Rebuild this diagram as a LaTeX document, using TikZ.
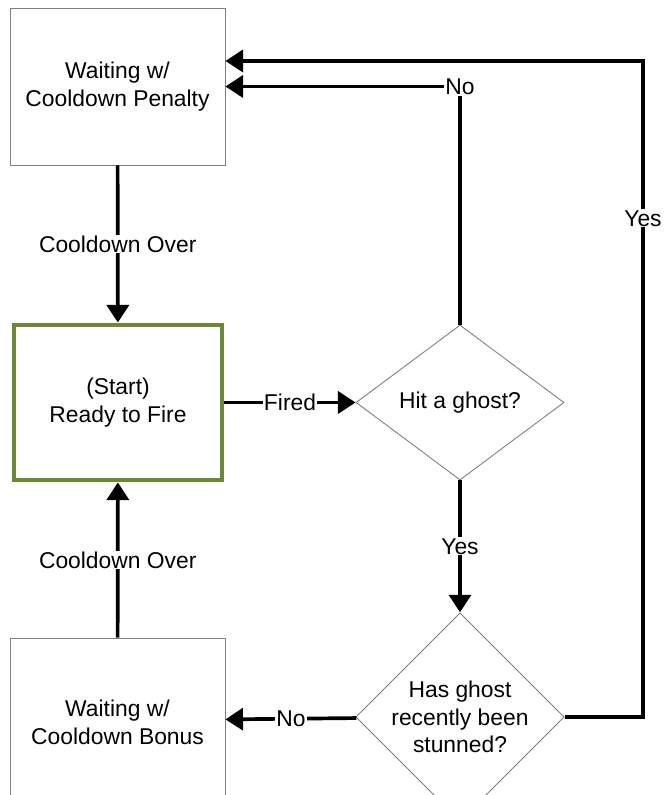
\documentclass[tikz,border=0pt]{standalone}
\usepackage{fontspec}
\setmainfont{Liberation Sans}
\usetikzlibrary{positioning,shapes.geometric,arrows.meta}
\definecolor{ink}{HTML}{000000}
\definecolor{frame}{HTML}{7F7F7F}
\definecolor{leaf}{HTML}{6B8838}

\begin{document}
\begin{tikzpicture}[
  % Node styles
  state/.style={
    rectangle,
    draw=frame,
    fill=white,
    line width=0.5pt,
    minimum width=4.3cm,
    minimum height=3.14cm,
    inner sep=0pt,
    align=center,
    font=\fontsize{13}{15.5}\selectfont,
  },
  start state/.style={
    state,
    draw=leaf,
    line width=2.8pt,
    minimum width=4.16cm,
    minimum height=3.1cm,
  },
  test/.style={
    diamond,
    draw=frame,
    fill=white,
    line width=0.5pt,
    minimum width=4.16cm,
    minimum height=3.1cm,
    inner sep=0pt,
    align=center,
    font=\fontsize{13}{15.5}\selectfont,
  },
  % Edge styles
  flow/.style={
    draw=ink,
    line width=2.1pt,
    -{Triangle[length=10pt,width=12.5pt]},
  },
  tag/.style={
    fill=white,
    inner sep=0.6pt,
    font=\fontsize{13}{15.5}\selectfont,
  },
]
  \useasboundingbox (0,0) rectangle (13.28,15.9);

  % States
  \node[state] (penalty) at (2.35,14.17) {Waiting w/\\Cooldown Penalty};
  \node[start state] (ready) at (2.36,7.85) {(Start)\\Ready to Fire};
  \node[state, minimum height=3.3cm] (bonus) at (2.35,1.49) {\\[-4pt]Waiting w/\\Cooldown Bonus};

  % Decisions
  \node[test] (hit) at (9.2,7.85) {Hit a ghost?};
  \node[test] (stunned) at (9.2,1.56) {Has ghost\\recently been\\stunned?};

  % Turning point of the right-hand return line
  \coordinate (yesturn) at (12.86,14.68);

  % Edges
  \draw[flow] (penalty) -- node[tag] {Cooldown Over} (ready);
  \draw[flow] (bonus) -- node[tag] {Cooldown Over} (ready);
  \draw[flow] (ready) -- node[tag] {Fired} (hit);
  \draw[flow] (hit) -- node[tag] {Yes} (stunned);
  \draw[flow] (stunned) -- node[tag] {No} (bonus);
  \draw[flow] (hit.north) |- node[tag] {No} (penalty.east);
  \draw[flow] (stunned.east) -| node[tag, pos=0.88] {Yes} (yesturn)
    -- (yesturn -| penalty.east);

\end{tikzpicture}
\end{document}
